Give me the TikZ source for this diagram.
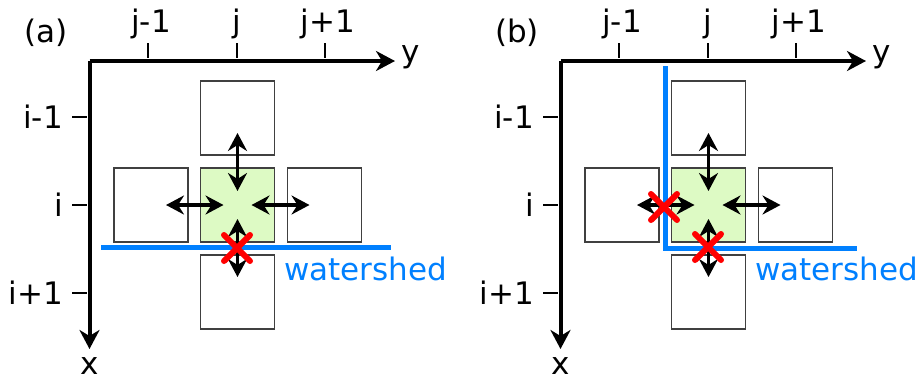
\documentclass[tikz,border=0pt]{standalone}
\usepackage{fontspec}
\setmainfont{DejaVu Sans}
\usetikzlibrary{arrows.meta}

\definecolor{wsblue}{RGB}{0,128,255}
\definecolor{cellgreen}{RGB}{221,250,196}
\definecolor{cellgray}{RGB}{64,64,64}

\tikzset{
  cell/.style={draw=cellgray, line width=1.6pt, minimum size=74pt, inner sep=0pt},
  axis/.style={line width=4pt, -{Stealth[length=19pt,width=20pt,inset=6pt]}},
  tickmark/.style={line width=2.5pt},
  flow/.style={line width=3.4pt,
    {Stealth[length=18pt,width=19pt,inset=6pt]}-{Stealth[length=18pt,width=19pt,inset=6pt]},
    shorten <=15pt, shorten >=14pt},
  shed/.style={wsblue, line width=5pt},
  cut/.style={red, line width=6pt, line cap=round},
  lbl/.style={font=\fontsize{31}{36}\selectfont, inner sep=0pt},
}

\begin{document}
\begin{tikzpicture}[x=1pt, y=-1pt]
  \useasboundingbox (0,0) rectangle (920,381);

  % panel (a)
  \node[lbl, anchor=base] (tagA) at (46,42) {(a)};
  \coordinate (oA) at (89.5,61);
  \coordinate (yA) at (395,61);
  \coordinate (xA) at (89.5,349);
  \draw[axis] (oA) -- (yA);
  \draw[axis] (oA) -- (xA);
  \node[lbl] (yLabA) at (411,57) {y};
  \node[lbl] (xLabA) at (90,366) {x};
  \draw[tickmark] (148,43) -- (148,58);
  \draw[tickmark] (237,43) -- (237,58);
  \draw[tickmark] (325,43) -- (325,58);
  \draw[tickmark] (72,117) -- (87,117);
  \draw[tickmark] (72,205) -- (87,205);
  \draw[tickmark] (72,293) -- (87,293);
  \node[lbl, anchor=base] (jmA) at (151,32) {j-1};
  \node[lbl, anchor=base] (jA) at (237,32) {j};
  \node[lbl, anchor=base] (jpA) at (328,32) {j+1};
  \node[lbl, anchor=base east] (imA) at (63,128) {i-1};
  \node[lbl, anchor=base east] (iA) at (63,216) {i};
  \node[lbl, anchor=base east] (ipA) at (63,304) {i+1};

  \node[cell, fill=cellgreen] (cA) at (237.5,205) {};
  \node[cell] (nA) at (237.5,118) {};
  \node[cell] (sA) at (237.5,292) {};
  \node[cell] (wA) at (151,205) {};
  \node[cell] (eA) at (324.5,205) {};
  \draw[flow] (nA.center) -- (cA.center);
  \draw[flow] (wA.center) -- (cA.center);
  \draw[flow] (eA.center) -- (cA.center);
  \draw[flow] (sA.center) -- (cA.center);

  \draw[shed] (101,247) -- (391,247);
  \node[lbl, wsblue, anchor=base west] (wsA) at (284,280) {watershed};
  \draw[cut] (224,235) -- (250,261) (224,261) -- (250,235);

  % panel (b)
  \begin{scope}[xshift=471pt]
    \node[lbl, anchor=base] (tagB) at (46,42) {(b)};
    \coordinate (oB) at (89.5,61);
    \coordinate (yB) at (395,61);
    \coordinate (xB) at (89.5,349);
    \draw[axis] (oB) -- (yB);
    \draw[axis] (oB) -- (xB);
    \node[lbl] (yLabB) at (411,57) {y};
    \node[lbl] (xLabB) at (90,366) {x};
    \draw[tickmark] (148,43) -- (148,58);
    \draw[tickmark] (237,43) -- (237,58);
    \draw[tickmark] (325,43) -- (325,58);
    \draw[tickmark] (72,117) -- (87,117);
    \draw[tickmark] (72,205) -- (87,205);
    \draw[tickmark] (72,293) -- (87,293);
    \node[lbl, anchor=base] (jmB) at (151,32) {j-1};
    \node[lbl, anchor=base] (jB) at (237,32) {j};
    \node[lbl, anchor=base] (jpB) at (328,32) {j+1};
    \node[lbl, anchor=base east] (imB) at (63,128) {i-1};
    \node[lbl, anchor=base east] (iB) at (63,216) {i};
    \node[lbl, anchor=base east] (ipB) at (63,304) {i+1};

    \node[cell, fill=cellgreen] (cB) at (237.5,205) {};
    \node[cell] (nB) at (237.5,118) {};
    \node[cell] (sB) at (237.5,292) {};
    \node[cell] (wB) at (151,205) {};
    \node[cell] (eB) at (324.5,205) {};
    \draw[flow] (nB.center) -- (cB.center);
    \draw[flow] (wB.center) -- (cB.center);
    \draw[flow] (eB.center) -- (cB.center);
    \draw[flow] (sB.center) -- (cB.center);

    \draw[shed] (194,66) -- (194,248) -- (386,248);
    \node[lbl, wsblue, anchor=base west] (wsB) at (284,280) {watershed};
    \draw[cut] (180,194) -- (206,220) (180,220) -- (206,194);
    \draw[cut] (224,234) -- (250,260) (224,260) -- (250,234);
  \end{scope}
\end{tikzpicture}
\end{document}
